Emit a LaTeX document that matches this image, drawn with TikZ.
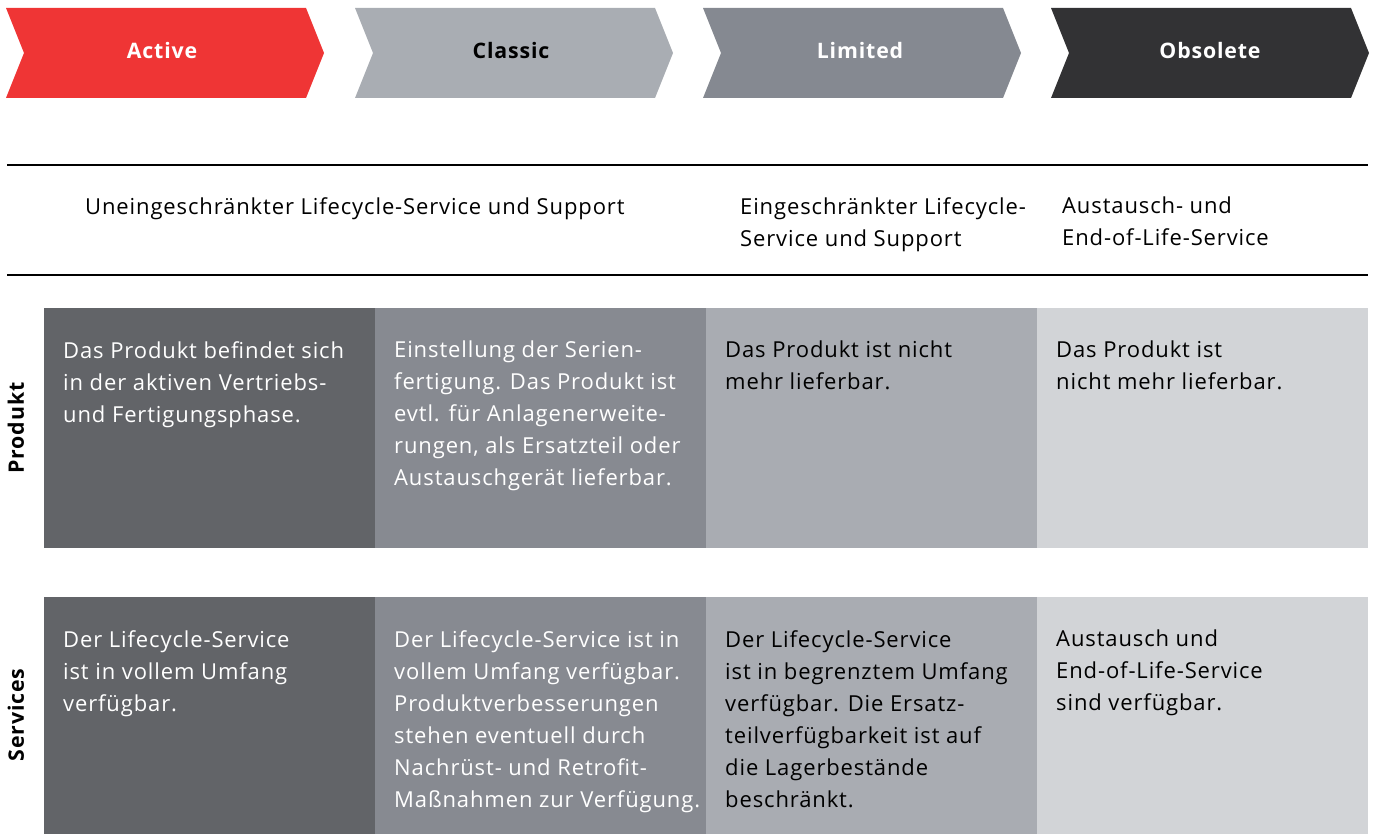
\documentclass[tikz,border=0pt]{standalone}
\usepackage{fontspec}
\setmainfont{Open Sans}[LetterSpace=4]
\usetikzlibrary{calc}
\definecolor{cred}{HTML}{EF3535}
\definecolor{cclassic}{HTML}{A9ADB3}
\definecolor{climited}{HTML}{858991}
\definecolor{cobsolete}{HTML}{323234}
\definecolor{bA}{HTML}{626468}
\definecolor{bB}{HTML}{878A91}
\definecolor{bC}{HTML}{A9ACB2}
\definecolor{bD}{HTML}{D2D4D7}
\tikzset{
  phase/.style={font=\fontsize{21.3}{25}\selectfont\bfseries, inner sep=0pt},
  cell/.style={draw=none, minimum width=331pt, minimum height=#1, inner sep=0pt, anchor=north west},
  celltext/.style={font=\fontsize{22}{32}\selectfont, align=left, anchor=north west, inner sep=0pt},
  hdrtext/.style={font=\fontsize{22}{32}\selectfont, align=left, anchor=north west, inner sep=0pt},
  rowlabel/.style={font=\fontsize{21.3}{25}\selectfont\bfseries, rotate=90, inner sep=0pt},
  rule/.style={line width=2.5pt, black}
}
\begin{document}
\begin{tikzpicture}[x=1pt,y=-1pt]
\useasboundingbox (0,0) rectangle (1375,834);
% chevrons
\foreach \xo/\col in {6/cred,355/cclassic,703/climited,1051/cobsolete}{
  \fill[\col] (\xo,8) -- ++(300,0) -- ++(18,45) -- ++(-18,45) -- (\xo,98) -- ++(18,-45) -- cycle;
}
\node[phase, text=white] (pActive) at (162,51) {Active};
\node[phase, text=black] (pClassic) at (511,51) {Classic};
\node[phase, text=white] (pLimited) at (860,51) {Limited};
\node[phase, text=white] (pObsolete) at (1210,51) {Obsolete};
% rules
\coordinate (r1a) at (7,165); \coordinate (r1b) at (1368,165);
\coordinate (r2a) at (7,275); \coordinate (r2b) at (1368,275);
\draw[rule] (r1a) -- (r1b);
\draw[rule] (r2a) -- (r2b);
% header texts
\node[hdrtext] (h1) at (85,197) {Uneingeschränkter Lifecycle-Service und Support};
\node[hdrtext] (h2) at (740,197) {Eingeschränkter Lifecycle-\\Service und Support};
\node[hdrtext] (h3) at (1062,197) {Austausch- und\\End-of-Life-Service};
% row labels
\node[rowlabel] (lP) at (16,428) {Produkt};
\node[rowlabel] (lS) at (16,715) {Services};
% Produkt row
\node[cell=240pt, fill=bA] (pa) at (44,308) {};
\node[cell=240pt, fill=bB] (pb) at (375,308) {};
\node[cell=240pt, fill=bC] (pc) at (706,308) {};
\node[cell=240pt, fill=bD] (pd) at (1037,308) {};
\node[celltext, text=white] at ($(pa.north west)+(19,33)$) {Das Produkt befindet sich\\in der aktiven Vertriebs-\\und Fertigungsphase.};
\node[celltext, text=white] at ($(pb.north west)+(19,33)$) {Einstellung der Serien-\\fertigung. Das Produkt ist\\evtl. für Anlagenerweite-\\rungen, als Ersatzteil oder\\Austauschgerät lieferbar.};
\node[celltext, text=black] at ($(pc.north west)+(19,33)$) {Das Produkt ist nicht\\mehr lieferbar.};
\node[celltext, text=black] at ($(pd.north west)+(19,33)$) {Das Produkt ist\\nicht mehr lieferbar.};
% Services row
\node[cell=237pt, fill=bA] (sa) at (44,597) {};
\node[cell=237pt, fill=bB] (sb) at (375,597) {};
\node[cell=237pt, fill=bC] (sc) at (706,597) {};
\node[cell=237pt, fill=bD] (sd) at (1037,597) {};
\node[celltext, text=white] at ($(sa.north west)+(19,33)$) {Der Lifecycle-Service\\ist in vollem Umfang\\verfügbar.};
\node[celltext, text=white] at ($(sb.north west)+(19,33)$) {Der Lifecycle-Service ist in\\vollem Umfang verfügbar.\\Produktverbesserungen\\stehen eventuell durch\\Nachrüst- und Retrofit-\\Maßnahmen zur Verfügung.};
\node[celltext, text=black] at ($(sc.north west)+(19,33)$) {Der Lifecycle-Service\\ist in begrenztem Umfang\\verfügbar. Die Ersatz-\\teilverfügbarkeit ist auf\\die Lagerbestände\\beschränkt.};
\node[celltext, text=black] at ($(sd.north west)+(19,33)$) {Austausch und\\End-of-Life-Service\\sind verfügbar.};
\end{tikzpicture}
\end{document}
